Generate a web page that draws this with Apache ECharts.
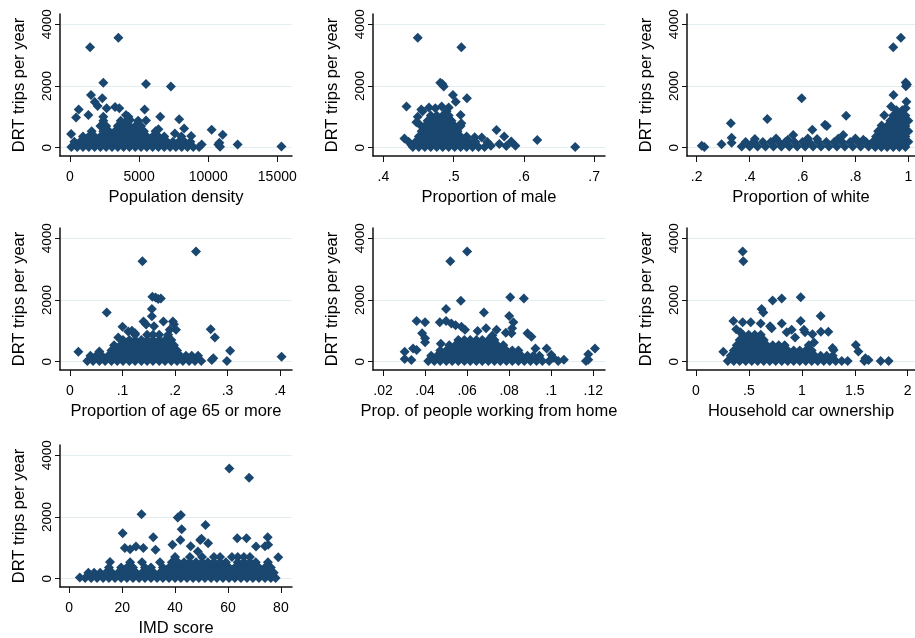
<!DOCTYPE html>
<html><head><meta charset="utf-8">
<script src="https://cdn.jsdelivr.net/npm/echarts@6/dist/echarts.min.js"></script>
<style>html,body{margin:0;padding:0;background:#fff}#c{width:915px;height:638px}</style>
</head><body><div id="c"></div>
<script>
// ---- data: [x value, DRT trips per year] ----
const tripsTicks = [0, 2000, 4000];

const popDensityTicks = [0, 5000, 10000, 15000];
const popDensity = [
[3500,3560],[1450,3250],[2410,2100],[5500,2060],[7300,1980],[1520,1710],[2340,1600],[1790,1480],[2000,1350],[630,1240],[2650,1280],[3260,1320],[3570,1280],[5400,1240],[1330,1060],[440,980],[4050,1060],[4340,900],[6530,1000],[7900,920],[5500,880],[4230,1000],[8260,620],[10250,580],[11050,420],[10730,100],[10860,30],[10810,160],[12130,100],[15300,40],[9530,100],[7590,460],[8060,360],[80,440],[8770,380],
[100,20],[520,20],[940,20],[1360,20],[1780,20],[2200,20],[2620,20],[3040,20],[3460,20],[3880,20],[4300,20],[4720,20],[5140,20],[5560,20],[5980,20],[6400,20],[6820,20],[7240,20],[7660,20],[8080,20],[8500,20],[8920,20],[9340,20],
[310,190],[730,190],[1150,190],[1570,190],[1990,190],[2410,190],[2830,190],[3250,190],[3670,190],[4090,190],[4510,190],[4930,190],[5350,190],[5770,190],[6190,190],[6610,190],[7030,190],[7450,190],[7870,190],[8290,190],[8710,190],
[940,360],[1360,360],[1780,360],[2200,360],[2620,360],[3040,360],[3460,360],[3880,360],[4300,360],[4720,360],[5140,360],[5560,360],[5980,360],[6400,360],[6820,360],
[1570,530],[2410,530],[2830,530],[3250,530],[3670,530],[4090,530],[4510,530],[4930,530],[5350,530],[6190,530],[6400,600],
[2200,700],[2620,700],[3460,700],[3880,700],[4300,700],[4720,700],[5140,700],
[2410,870],[3670,870],[4090,870],[4930,870],[2410,1000]
];

const propMaleTicks = [0.4, 0.5, 0.6, 0.7];
const propMale = [
[.449,3560],[.511,3250],[.481,2100],[.484,2060],[.486,1980],[.499,1710],[.519,1600],[.503,1490],[.433,1330],[.454,1240],[.465,1300],[.474,1275],[.483,1330],[.493,1300],[.510,1060],[.449,1000],[.452,740],[.511,790],[.561,570],[.572,360],[.582,200],[.575,50],[.588,60],[.619,250],[.673,20],[.43,300],[.436,190],[.44,90],[.447,820],[.456,1180],[.49,1180],
[.442,20],[.4505,20],[.459,20],[.4675,20],[.476,20],[.4845,20],[.493,20],[.5015,20],[.510,20],[.5185,20],[.527,20],[.5355,20],[.544,20],[.553,60],[.565,120],
[.446,190],[.4545,190],[.463,190],[.4715,190],[.480,190],[.4885,190],[.497,190],[.5055,190],[.514,190],[.5225,190],[.531,190],[.548,180],
[.4505,360],[.459,360],[.4675,360],[.476,360],[.4845,360],[.493,360],[.5015,360],[.510,360],[.5185,360],[.53,340],[.54,330],
[.4545,530],[.463,530],[.4715,530],[.480,530],[.4885,530],[.497,530],[.5055,530],
[.459,700],[.4675,700],[.476,700],[.4845,700],[.493,700],[.5015,700],[.510,700],
[.463,870],[.4715,870],[.480,870],[.4885,870],[.497,870],
[.4675,1040],[.476,1040],[.4845,1040],[.493,1040]
];

const propWhiteTicks = [0.2, 0.4, 0.6, 0.8, 1];
const propWhite = [
[.972,3560],[.943,3250],[.99,2110],[.995,2050],[.991,1990],[.944,1710],[.597,1600],[.993,1490],[.935,1330],[.99,1280],[.765,1030],[.329,790],[.467,925],[.332,320],[.332,160],[.219,60],[.229,20],[.294,110],[.565,410],[.637,580],[.685,740],[.692,700],[.754,410],[.909,1050],[.899,720],[.895,580],
[.37,40],[.40,40],[.43,40],[.46,40],[.49,40],[.52,40],[.55,40],[.58,40],[.61,40],[.64,40],[.67,40],[.70,40],[.73,40],[.76,40],[.79,40],[.82,40],[.85,40],
[.385,180],[.415,180],[.45,180],[.48,180],[.51,180],[.535,180],[.57,180],[.60,180],[.625,180],[.66,180],[.69,180],[.72,180],[.75,180],[.78,180],[.81,180],[.84,180],[.865,180],
[.42,280],[.50,300],[.545,260],[.62,300],[.655,280],[.735,290],[.80,300],[.83,260],
[.875,20],[.898,20],[.92,20],[.943,20],[.966,20],[.989,20],
[.886,190],[.909,190],[.932,190],[.955,190],[.977,190],[1,190],
[.878,360],[.898,360],[.92,360],[.943,360],[.966,360],[.989,360],
[.886,530],[.909,530],[.932,530],[.955,530],[.977,530],[1,530],
[.92,700],[.943,700],[.966,700],[.989,700],
[.932,870],[.955,870],[.977,870],[1,870],
[.943,1040],[.966,1040],[.989,1040],
[.955,1210],[.977,1210]
];

const propAge65Ticks = [0, 0.1, 0.2, 0.3, 0.4];
const propAge65 = [
[.24,3570],[.138,3250],[.157,2100],[.163,2080],[.168,2030],[.173,2050],[.156,1710],[.156,1470],[.07,1590],[.1,1135],[.111,975],[.124,920],[.14,1300],[.178,1300],[.196,1300],[.198,1210],[.19,1030],[.202,1030],[.092,780],[.268,1050],[.276,780],[.305,350],[.299,20],[.27,50],[.273,110],[.403,160],[.016,320],[.145,1200],[.16,1150],[.118,1000],
[.033,20],[.044,20],[.056,20],[.067,20],[.079,20],[.09,20],[.101,20],[.113,20],[.124,20],[.136,20],[.147,20],[.158,20],[.17,20],[.181,20],[.193,20],[.204,20],[.215,20],[.227,20],[.238,20],[.25,20],
[.039,190],[.05,190],[.061,190],[.073,190],[.084,190],[.096,190],[.107,190],[.118,190],[.13,190],[.141,190],[.153,190],[.164,190],[.175,190],[.187,190],[.198,190],[.21,190],[.221,190],[.232,190],[.244,190],
[.056,330],[.079,360],[.09,360],[.101,360],[.113,360],[.124,360],[.136,360],[.147,360],[.158,360],[.17,360],[.181,360],[.193,360],[.204,360],
[.084,530],[.096,530],[.107,530],[.118,530],[.13,530],[.141,530],[.153,530],[.164,530],[.175,530],[.187,530],[.198,530],
[.101,700],[.113,700],[.124,700],[.136,700],[.147,700],[.158,700],[.17,700],[.181,700],[.193,700],
[.124,870],[.147,870],[.158,870],[.17,870],[.187,870]
];

const propWfhTicks = [0.02, 0.04, 0.06, 0.08, 0.1, 0.12];
const propWfh = [
[.06,3570],[.052,3250],[.057,1970],[.0805,2090],[.087,2050],[.05,1710],[.068,1590],[.08,1480],[.036,1320],[.040,1280],[.047,1280],[.050,1320],[.0525,1240],[.0386,920],[.04,630],[.04,760],[.0573,1135],[.059,1030],[.065,995],[.069,1080],[.074,1030],[.0784,940],[.0811,920],[.082,1280],[.0814,1080],[.0887,920],[.0906,810],[.0978,430],[.0303,320],[.0303,90],[.0335,50],[.0343,430],[.036,380],[.1176,240],[.1176,60],[.1165,20],[.1208,430],[.1033,20],[.1,220],[.0545,1180],[.0475,580],[.072,850],[.0925,430],[.106,60],[.101,130],
[.0415,20],[.0444,20],[.0472,20],[.0501,20],[.0529,20],[.0558,20],[.0587,20],[.0615,20],[.0644,20],[.0672,20],[.0701,20],[.073,20],[.0758,20],[.0787,20],[.0815,20],[.0844,20],[.0872,20],[.0901,20],[.093,20],[.0958,20],[.099,20],
[.0429,190],[.0458,190],[.0487,190],[.0515,190],[.0544,190],[.0572,190],[.0601,190],[.063,190],[.0658,190],[.0687,190],[.0715,190],[.0744,190],[.0772,190],[.0801,190],[.083,190],[.0858,190],[.0887,190],[.0915,190],[.0944,190],
[.0472,360],[.0501,360],[.0529,360],[.0558,360],[.0587,360],[.0615,360],[.0644,360],[.0672,360],[.0701,360],[.073,360],[.0758,360],[.0787,360],[.0815,360],[.0844,360],
[.0515,530],[.0544,530],[.0572,530],[.0601,530],[.063,530],[.0658,530],[.0687,530],[.0715,530],[.0744,530],[.0772,530],
[.0558,700],[.0587,700],[.0615,700],[.0644,700],[.0672,700],[.0701,700],[.073,700]
];

const carOwnershipTicks = [0, 0.5, 1, 1.5, 2];
const carOwnership = [
[.441,3570],[.447,3250],[.989,2090],[.81,2050],[.724,1980],[.62,1710],[.636,1590],[1.178,1480],[.989,1320],[.353,1320],[.441,1280],[.517,1280],[.611,1240],[.81,1240],[.715,1080],[.904,1030],[1.02,1030],[1.03,950],[.857,950],[1.1,890],[1.18,970],[1.25,970],[.936,780],[1.115,620],[1.3,380],[1.29,440],[1.51,540],[1.534,330],[1.6,110],[1.63,50],[1.745,20],[1.82,20],[1.59,20],[.258,320],[.38,1050],[.42,950],[.7,1150],
[.30,20],[.357,20],[.413,20],[.47,20],[.527,20],[.583,20],[.64,20],[.697,20],[.753,20],[.81,20],[.867,20],[.923,20],[.98,20],[1.037,20],[1.093,20],[1.15,20],[1.207,20],[1.263,20],[1.32,20],[1.377,20],[1.433,20],
[.328,190],[.385,190],[.442,190],[.498,190],[.555,190],[.612,190],[.668,190],[.725,190],[.782,190],[.838,190],[.895,190],[.952,190],[1.008,190],[1.065,190],[1.122,190],[1.178,190],[1.235,190],[1.292,190],
[.357,360],[.413,360],[.47,360],[.527,360],[.583,360],[.64,360],[.697,360],[.753,360],[.81,360],[.867,360],[.923,360],[.98,360],[1.037,360],[1.093,360],
[.385,530],[.442,530],[.498,530],[.555,530],[.612,530],[.668,530],[.725,530],[.782,530],[.838,530],[1.065,530],
[.413,700],[.47,700],[.527,700],[.583,700],[.64,700],
[.442,870],[.498,870],[.555,870],[.612,870]
];

const imdScoreTicks = [0, 20, 40, 60, 80];
const imdScore = [
[60.5,3570],[68,3270],[27.3,2090],[42.2,2060],[41,1980],[51.5,1740],[42.5,1600],[20.2,1470],[31.75,1340],[50,1290],[52.5,1150],[63.5,1310],[67,1310],[75,1340],[21,990],[23,950],[25.2,1040],[28,990],[32.6,935],[45.9,1050],[75.2,1100],[70.6,1040],[74,1050],[42,1250],[48.6,880],[79,690],[4,40],[15.4,540],[39,1100],[49.5,1250],
[6,20],[8.3,20],[10.5,20],[12.8,20],[15,20],[17.3,20],[19.6,20],[21.8,20],[24.1,20],[26.4,20],[28.6,20],[30.9,20],[33.2,20],[35.4,20],[37.7,20],[40,20],[42.2,20],[44.5,20],[46.8,20],[49,20],[51.3,20],[53.6,20],[55.8,20],[58.1,20],[60.4,20],[62.6,20],[64.9,20],[67.2,20],[69.4,20],[71.7,20],[74,20],[76.2,20],[78,20],
[7.2,190],[9.4,190],[11.7,190],[13.9,190],[16.2,190],[18.5,190],[20.7,190],[23,190],[25.3,190],[27.5,190],[29.8,190],[32,190],[34.3,190],[36.6,190],[38.8,190],[41.1,190],[43.4,190],[45.6,190],[47.9,190],[50.2,190],[52.4,190],[54.7,190],[57,190],[59.2,190],[61.5,190],[63.7,190],[66,190],[68.3,190],[70.5,190],[72.8,190],[75.1,190],[77.3,190],
[15,360],[19.6,360],[21.8,360],[24.1,360],[28.6,360],[30.9,360],[35.4,360],[37.7,360],[40,360],[42.2,360],[44.5,360],[46.8,360],[49,360],[51.3,360],[53.6,360],[55.8,360],[58.1,360],[60.4,360],[62.6,360],[64.9,360],[67.2,360],[69.4,360],[71.7,360],[74,360],[76.2,360],
[23,530],[27.5,530],[34.3,530],[38.8,530],[41.1,530],[43.4,530],[45.6,530],[47.9,530],[50.2,530],[52.4,530],[54.7,530],[57,530],[59.2,530],[63.7,530],[66,530],[68.3,530],[70.5,530],[75.1,530],
[40,700],[45.6,700],[50.2,700],[54.7,700],[57,700],[61.5,700],[63.7,700],[66,700],[68.3,700]
];

// ---- layout ----
const FONT = '"Liberation Sans", Arial, Helvetica, sans-serif';
const panels = [
  {data: popDensity,   title: 'Population density',                ticks: popDensityTicks,   min: -724,   max: 16064,  left: 60,  top: 14,  width: 232},
  {data: propMale,     title: 'Proportion of male',                ticks: propMaleTicks,     min: 0.3853, max: 0.7154, left: 373, top: 14,  width: 232},
  {data: propWhite,    title: 'Proportion of white',               ticks: propWhiteTicks,    min: 0.1633, max: 1.0253, left: 687, top: 14,  width: 228},
  {data: propAge65,    title: 'Proportion of age 65 or more',      ticks: propAge65Ticks,    min: -0.019, max: 0.4229, left: 60,  top: 228, width: 232},
  {data: propWfh,      title: 'Prop. of people working from home', ticks: propWfhTicks,      min: 0.01524,max: 0.12557,left: 373, top: 228, width: 232},
  {data: carOwnership, title: 'Household car ownership',           ticks: carOwnershipTicks, min: -0.085, max: 2.069,  left: 687, top: 228, width: 228},
  {data: imdScore,     title: 'IMD score',                         ticks: imdScoreTicks,     min: -3.5,   max: 84.2,   left: 60,  top: 445, width: 232}
];

const fmt = v => String(Math.round(v * 10000) / 10000).replace(/^0\./, '.').replace(/^-0\./, '-.');
const AXIS = '#111';

const option = {
  backgroundColor: '#fff',
  animation: false,
  grid: panels.map(p => ({left: p.left, top: p.top, width: p.width, height: 142, containLabel: false, outerBoundsMode: 'none'})),
  xAxis: panels.map((p, i) => ({
    type: 'value', gridIndex: i, min: p.min, max: p.max,
    name: p.title, nameLocation: 'middle', nameGap: 33,
    nameTextStyle: {fontSize: 16.5, color: '#000', fontFamily: FONT},
    axisLine: {show: true, onZero: false, lineStyle: {color: AXIS, width: 1.5}},
    axisTick: {show: true, customValues: p.ticks, length: 6, lineStyle: {color: AXIS, width: 1}},
    axisLabel: {customValues: p.ticks, formatter: fmt, fontSize: 14, margin: 14, color: '#000', fontFamily: FONT},
    splitLine: {show: false}
  })),
  yAxis: panels.map((p, i) => ({
    type: 'value', gridIndex: i, min: -270, max: 4330,
    name: 'DRT trips per year', nameLocation: 'middle', nameRotate: 90, nameGap: 32,
    nameTextStyle: {fontSize: 16.5, color: '#000', fontFamily: FONT},
    axisLine: {show: true, onZero: false, lineStyle: {color: AXIS, width: 1.5}},
    axisTick: {show: true, customValues: tripsTicks, length: 5, lineStyle: {color: AXIS, width: 1}},
    axisLabel: {customValues: tripsTicks, formatter: v => String(Math.round(v)), rotate: 90, fontSize: 13.5, margin: 6, color: '#000', fontFamily: FONT},
    splitLine: {show: true, lineStyle: {color: '#e4eef0', width: 1}}
  })),
  series: panels.map((p, i) => ({
    type: 'scatter', xAxisIndex: i, yAxisIndex: i,
    symbol: 'diamond', symbolSize: 10,
    itemStyle: {color: '#1a476f', opacity: 1},
    silent: true,
    data: p.data
  }))
};

const chart = echarts.init(document.getElementById('c'), null, {renderer: 'canvas', width: 915, height: 638});
chart.setOption(option);
</script>
</body></html>
